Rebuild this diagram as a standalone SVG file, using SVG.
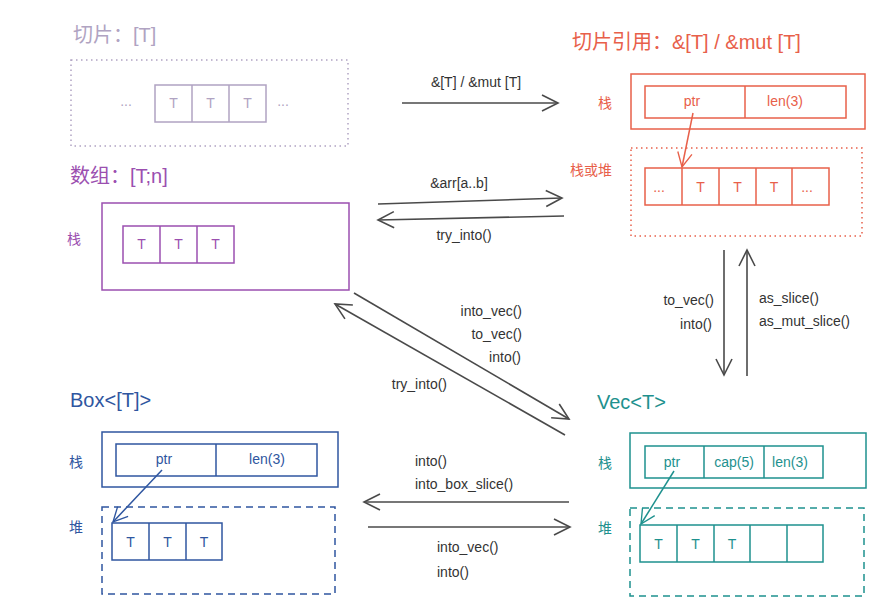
<svg xmlns="http://www.w3.org/2000/svg" width="891" height="614" viewBox="0 0 891 614">
<defs>
<style>
text{font-family:"Liberation Sans","Noto Sans CJK SC",sans-serif;}
.title{font-size:20px;}
.lbl{font-size:14px;fill:#333;}
.side{font-size:14px;}
.cell{font-size:14px;text-anchor:middle;}
.conn{stroke:#4a4a4a;stroke-width:1.6;fill:none;marker-end:url(#ah);}
.sl{stroke:#b0a3c2;fill:none;stroke-width:1.5;}
.sr{stroke:#e8604a;fill:none;stroke-width:1.5;}
.ar{stroke:#9b4fb0;fill:none;stroke-width:1.5;}
.bx{stroke:#2f56a0;fill:none;stroke-width:1.5;}
.vc{stroke:#1e918e;fill:none;stroke-width:1.5;}
</style>
<marker id="ah" viewBox="0 0 20 20" refX="18" refY="10" markerWidth="20" markerHeight="20" markerUnits="userSpaceOnUse" orient="auto">
<path d="M2,2 L18,10 L2,18" fill="none" stroke="#4a4a4a" stroke-width="1.6"/>
</marker>
<marker id="ahr" viewBox="0 0 20 20" refX="18" refY="10" markerWidth="18" markerHeight="18" markerUnits="userSpaceOnUse" orient="auto">
<path d="M2,2 L18,10 L2,18" fill="none" stroke="#e8604a" stroke-width="1.5"/>
</marker>
<marker id="ahb" viewBox="0 0 20 20" refX="18" refY="10" markerWidth="18" markerHeight="18" markerUnits="userSpaceOnUse" orient="auto">
<path d="M2,2 L18,10 L2,18" fill="none" stroke="#2f56a0" stroke-width="1.5"/>
</marker>
<marker id="ahv" viewBox="0 0 20 20" refX="18" refY="10" markerWidth="18" markerHeight="18" markerUnits="userSpaceOnUse" orient="auto">
<path d="M2,2 L18,10 L2,18" fill="none" stroke="#1e918e" stroke-width="1.5"/>
</marker>
</defs>
<rect width="891" height="614" fill="#fff"/>

<g id="slice">
<text class="title" x="73" y="42" fill="#b0a3c2">切片：[T]</text>
<rect class="sl" x="71" y="60" width="277" height="86" stroke-dasharray="1.5,3.5"/>
<rect class="sl" x="155" y="85" width="111" height="37"/>
<line class="sl" x1="192" y1="85" x2="192" y2="122"/>
<line class="sl" x1="229" y1="85" x2="229" y2="122"/>
<g fill="#b0a3c2">
<text class="cell" x="173.5" y="108">T</text>
<text class="cell" x="210.5" y="108">T</text>
<text class="cell" x="247.5" y="108">T</text>
<text class="cell" x="126" y="106">...</text>
<text class="cell" x="283" y="106">...</text>
</g>
</g>

<g id="sliceref">
<text class="title" x="572" y="49" fill="#e8604a">切片引用：&amp;[T] / &amp;mut [T]</text>
<rect class="sr" x="631" y="74" width="234" height="55"/>
<rect class="sr" x="645" y="86" width="201" height="32"/>
<line class="sr" x1="745" y1="86" x2="745" y2="118"/>
<text class="side" x="598" y="108" fill="#e8604a">栈</text>
<text class="cell" x="692" y="106" fill="#e8604a">ptr</text>
<text class="cell" x="785" y="106" fill="#e8604a">len(3)</text>
<rect class="sr" x="631" y="148" width="231" height="88" stroke-dasharray="1.5,3.5"/>
<text class="side" x="570" y="175" fill="#e8604a">栈或堆</text>
<rect class="sr" x="645" y="168" width="184" height="37"/>
<line class="sr" x1="682" y1="168" x2="682" y2="205"/>
<line class="sr" x1="719" y1="168" x2="719" y2="205"/>
<line class="sr" x1="756" y1="168" x2="756" y2="205"/>
<line class="sr" x1="792" y1="168" x2="792" y2="205"/>
<g fill="#e8604a">
<text class="cell" x="659" y="192">...</text>
<text class="cell" x="700.5" y="192">T</text>
<text class="cell" x="737.5" y="192">T</text>
<text class="cell" x="774" y="192">T</text>
<text class="cell" x="807" y="192">...</text>
</g>
<line class="sr" x1="693" y1="113" x2="682" y2="167" marker-end="url(#ahr)"/>
</g>

<g id="array">
<text class="title" x="70" y="183" fill="#9b4fb0">数组：[T;n]</text>
<rect class="ar" x="102" y="203" width="247" height="87"/>
<text class="side" x="67" y="244" fill="#9b4fb0">栈</text>
<rect class="ar" x="123" y="226" width="111" height="37"/>
<line class="ar" x1="160" y1="226" x2="160" y2="263"/>
<line class="ar" x1="197" y1="226" x2="197" y2="263"/>
<g fill="#9b4fb0">
<text class="cell" x="141.5" y="249">T</text>
<text class="cell" x="178.5" y="249">T</text>
<text class="cell" x="215.5" y="249">T</text>
</g>
</g>

<g id="box">
<text class="title" x="70" y="407" fill="#2f56a0">Box&lt;[T]&gt;</text>
<rect class="bx" x="102" y="432" width="236" height="55"/>
<rect class="bx" x="116" y="444" width="201" height="32"/>
<line class="bx" x1="216" y1="444" x2="216" y2="476"/>
<text class="side" x="69" y="467" fill="#2f56a0">栈</text>
<text class="cell" x="164" y="464" fill="#2f56a0">ptr</text>
<text class="cell" x="267" y="464" fill="#2f56a0">len(3)</text>
<rect class="bx" x="102" y="507" width="233" height="87" stroke-dasharray="7,5"/>
<text class="side" x="69" y="532" fill="#2f56a0">堆</text>
<rect class="bx" x="112" y="523" width="110" height="37"/>
<line class="bx" x1="149" y1="523" x2="149" y2="560"/>
<line class="bx" x1="186" y1="523" x2="186" y2="560"/>
<g fill="#2f56a0">
<text class="cell" x="130.5" y="547">T</text>
<text class="cell" x="167.5" y="547">T</text>
<text class="cell" x="204" y="547">T</text>
</g>
<line class="bx" x1="162" y1="470" x2="113" y2="522" marker-end="url(#ahb)"/>
</g>

<g id="vec">
<text class="title" x="597" y="409" fill="#1e918e">Vec&lt;T&gt;</text>
<rect class="vc" x="630" y="433" width="236" height="55"/>
<rect class="vc" x="645" y="446" width="178" height="32"/>
<line class="vc" x1="704" y1="446" x2="704" y2="478"/>
<line class="vc" x1="764" y1="446" x2="764" y2="478"/>
<text class="side" x="598" y="468" fill="#1e918e">栈</text>
<text class="cell" x="672" y="467" fill="#1e918e">ptr</text>
<text class="cell" x="734" y="467" fill="#1e918e">cap(5)</text>
<text class="cell" x="790" y="467" fill="#1e918e">len(3)</text>
<rect class="vc" x="630" y="508" width="234" height="88" stroke-dasharray="7,5"/>
<text class="side" x="598" y="533" fill="#1e918e">堆</text>
<rect class="vc" x="640" y="525" width="183" height="37"/>
<line class="vc" x1="677" y1="525" x2="677" y2="562"/>
<line class="vc" x1="714" y1="525" x2="714" y2="562"/>
<line class="vc" x1="750" y1="525" x2="750" y2="562"/>
<line class="vc" x1="787" y1="525" x2="787" y2="562"/>
<g fill="#1e918e">
<text class="cell" x="658.5" y="549">T</text>
<text class="cell" x="695.5" y="549">T</text>
<text class="cell" x="732" y="549">T</text>
</g>
<line class="vc" x1="674" y1="471" x2="641" y2="524" marker-end="url(#ahv)"/>
</g>

<g id="connectors">
<line class="conn" x1="402" y1="103" x2="558" y2="103"/>
<text class="lbl" x="476" y="87" text-anchor="middle">&amp;[T] / &amp;mut [T]</text>
<line class="conn" x1="378" y1="204" x2="562" y2="198"/>
<text class="lbl" x="459" y="188" text-anchor="middle">&amp;arr[a..b]</text>
<line class="conn" x1="564" y1="216" x2="378" y2="220"/>
<text class="lbl" x="464" y="240" text-anchor="middle">try_into()</text>
<line class="conn" x1="354" y1="293" x2="569" y2="419"/>
<text class="lbl" x="522" y="316" text-anchor="end">into_vec()</text>
<text class="lbl" x="522" y="339" text-anchor="end">to_vec()</text>
<text class="lbl" x="521" y="362" text-anchor="end">into()</text>
<line class="conn" x1="565" y1="435" x2="335" y2="304"/>
<text class="lbl" x="447" y="389" text-anchor="end">try_into()</text>
<line class="conn" x1="724" y1="250" x2="724" y2="375"/>
<text class="lbl" x="714" y="305" text-anchor="end">to_vec()</text>
<text class="lbl" x="712" y="329" text-anchor="end">into()</text>
<line class="conn" x1="747" y1="376" x2="747" y2="250"/>
<text class="lbl" x="759" y="303">as_slice()</text>
<text class="lbl" x="759" y="326">as_mut_slice()</text>
<line class="conn" x1="569" y1="502" x2="364" y2="502"/>
<text class="lbl" x="415" y="466">into()</text>
<text class="lbl" x="415" y="489">into_box_slice()</text>
<line class="conn" x1="368" y1="527" x2="570" y2="527"/>
<text class="lbl" x="437" y="552">into_vec()</text>
<text class="lbl" x="437" y="577">into()</text>
</g>
</svg>
